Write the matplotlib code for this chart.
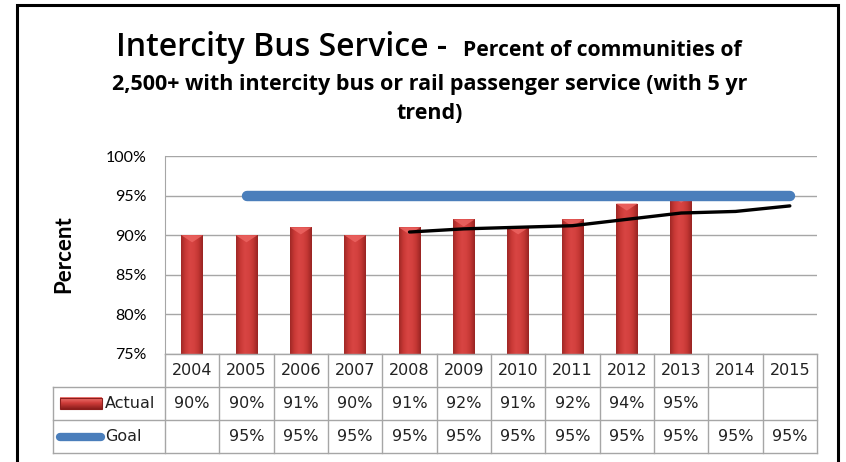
import matplotlib
matplotlib.use("Agg")
import matplotlib.pyplot as plt
import numpy as np
from matplotlib.patches import Rectangle
from matplotlib.lines import Line2D
from matplotlib.colors import LinearSegmentedColormap

# --- data ---
years = ['2004', '2005', '2006', '2007', '2008', '2009', '2010', '2011', '2012', '2013', '2014', '2015']
actual = [90, 90, 91, 90, 91, 92, 91, 92, 94, 95, None, None]
goal = [None, 95, 95, 95, 95, 95, 95, 95, 95, 95, 95, 95]
trend = [None, None, None, None, 90.4, 90.8, 91.0, 91.2, 92.0, 92.8, 93.0, 93.7]
y_ticks = [75, 80, 85, 90, 95, 100]

W, H = 846, 462
fig = plt.figure(figsize=(W / 100, H / 100), dpi=100)

GRID = '#A6A6A6'
RED = '#CF3C39'
BLUE = '#4A7EBB'
FONT = 'Lato'
TFONT = 'Open Sans'

# plot area in pixels
L, R, T, B = 165, 817, 156, 354
ax = fig.add_axes([L / W, 1 - B / H, (R - L) / W, (B - T) / H])
n = len(years)

# --- bars with a soft cylinder gradient ---
bar_cmap = LinearSegmentedColormap.from_list(
    'bar', ['#A02826', '#C93936', '#D84543', '#D4413F', '#C23633', '#982422'])
grad = np.linspace(0, 1, 64).reshape(1, -1)
for i, v in enumerate(actual):
    if v is None:
        continue
    patch = ax.bar(i, v - 75, bottom=75, width=0.4, color='none', zorder=2)[0]
    im = ax.imshow(grad, cmap=bar_cmap, aspect='auto', zorder=2,
                   extent=(i - 0.2, i + 0.2, 75, v))
    im.set_clip_path(patch)
    # light bevel on top of each bar
    ax.fill([i - 0.2, i + 0.2, i], [v, v, v - 0.9], color='#EC6461', alpha=0.85, zorder=3, lw=0)

# goal line
gx = [i for i, g in enumerate(goal) if g is not None]
gy = [g for g in goal if g is not None]
ax.plot(gx, gy, color=BLUE, lw=7.5, solid_capstyle='round', zorder=4)

# 5 yr trend
tx = [i for i, t in enumerate(trend) if t is not None]
ty = [t for t in trend if t is not None]
ax.plot(tx, ty, color='black', lw=2.4, solid_capstyle='round', zorder=5)

ax.set_xlim(-0.5, n - 0.5)
ax.set_ylim(75, 100)
ax.set_yticks(y_ticks)
ax.set_yticklabels([f'{v}%' for v in y_ticks], fontsize=11.5, family=FONT)
ax.set_xticks([])
ax.tick_params(axis='y', length=0, pad=13)
ax.grid(True, axis='y', color=GRID, lw=1, zorder=0)
ax.set_axisbelow(True)
for s in ['top', 'right', 'bottom']:
    ax.spines[s].set_visible(False)
ax.spines['left'].set_color(GRID)

fig.text(64 / W, 1 - 254 / H, 'Percent', rotation=90, ha='center', va='center',
         fontsize=16, fontweight='bold', family=FONT)

# --- data table ---
TB = 453
tab = fig.add_axes([L / W, 1 - TB / H, (R - L) / W, (TB - B) / H])
colw = (R - L) / n


def xd(p):
    return -0.5 + (p - L) / colw


xl = xd(53)
kw = dict(color=GRID, lw=1, clip_on=False)
tab.plot([-0.5, n - 0.5], [0, 0], **kw)
for r in (1, 2, 3):
    tab.plot([xl, n - 0.5], [r, r], **kw)
tab.plot([xl, xl], [1, 3], **kw)
for i in range(-1, n):
    tab.plot([i + 0.5, i + 0.5], [0, 3], **kw)

tfont = dict(fontsize=11.5, family='DejaVu Sans', ha='center', va='center', color='#222222')
for i in range(n):
    tab.text(i, 0.5, years[i], **tfont)
    if actual[i] is not None:
        tab.text(i, 1.5, f'{actual[i]}%', **tfont)
    if goal[i] is not None:
        tab.text(i, 2.5, f'{goal[i]}%', **tfont)

lfont = dict(fontsize=11.5, family='DejaVu Sans', ha='left', va='center', color='#222222')
tab.text(xd(105), 1.5, 'Actual', clip_on=False, **lfont)
tab.text(xd(105), 2.5, 'Goal', clip_on=False, **lfont)
# legend keys
key_cmap = LinearSegmentedColormap.from_list('key', ['#F27B77', '#CF3C39', '#8B1E1C'])
tab.imshow(np.linspace(0, 1, 32).reshape(-1, 1), cmap=key_cmap, aspect='auto',
           extent=(xd(60), xd(102), 1.68, 1.32), clip_on=False)
tab.add_patch(Rectangle((xd(60), 1.32), xd(102) - xd(60), 0.36, clip_on=False,
                        fill=False, edgecolor='#8B1E1C', lw=0.8))
tab.add_line(Line2D([xd(60), xd(101)], [2.5, 2.5], color=BLUE, lw=6,
                    solid_capstyle='round', clip_on=False))
tab.set_xlim(-0.5, n - 0.5)
tab.set_ylim(3, 0)
tab.axis('off')

# --- title, each piece sized to the width it takes in the chart ---
renderer = fig.canvas.get_renderer()


def fitted(xp, yp, s, width, size, ha='left', weight='bold'):
    t = fig.text(xp / W, 1 - yp / H, s, fontsize=size, fontweight=weight,
                 family=TFONT, ha=ha, va='baseline')
    w = t.get_window_extent(renderer=renderer).width
    t.set_fontsize(size * width / w)
    return t


fitted(116, 56, 'Intercity Bus Service -', 332, 20, weight='semibold')
fitted(463, 56, 'Percent of communities of', 277, 13)
line2 = fitted(430, 90, '2,500+ with intercity bus or rail passenger service (with 5 yr',
               632, 13, ha='center')
fig.text(430 / W, 1 - 119 / H, 'trend)', fontsize=line2.get_fontsize(), fontweight='bold',
         family=TFONT, ha='center', va='baseline')

# outer frame
fig.patches.append(Rectangle((17 / W, -0.1), (838 - 17) / W, 1 - 5 / H + 0.1,
                             transform=fig.transFigure, fill=False, lw=2.2,
                             ec='black'))

fig.savefig('out.png', dpi=100)
